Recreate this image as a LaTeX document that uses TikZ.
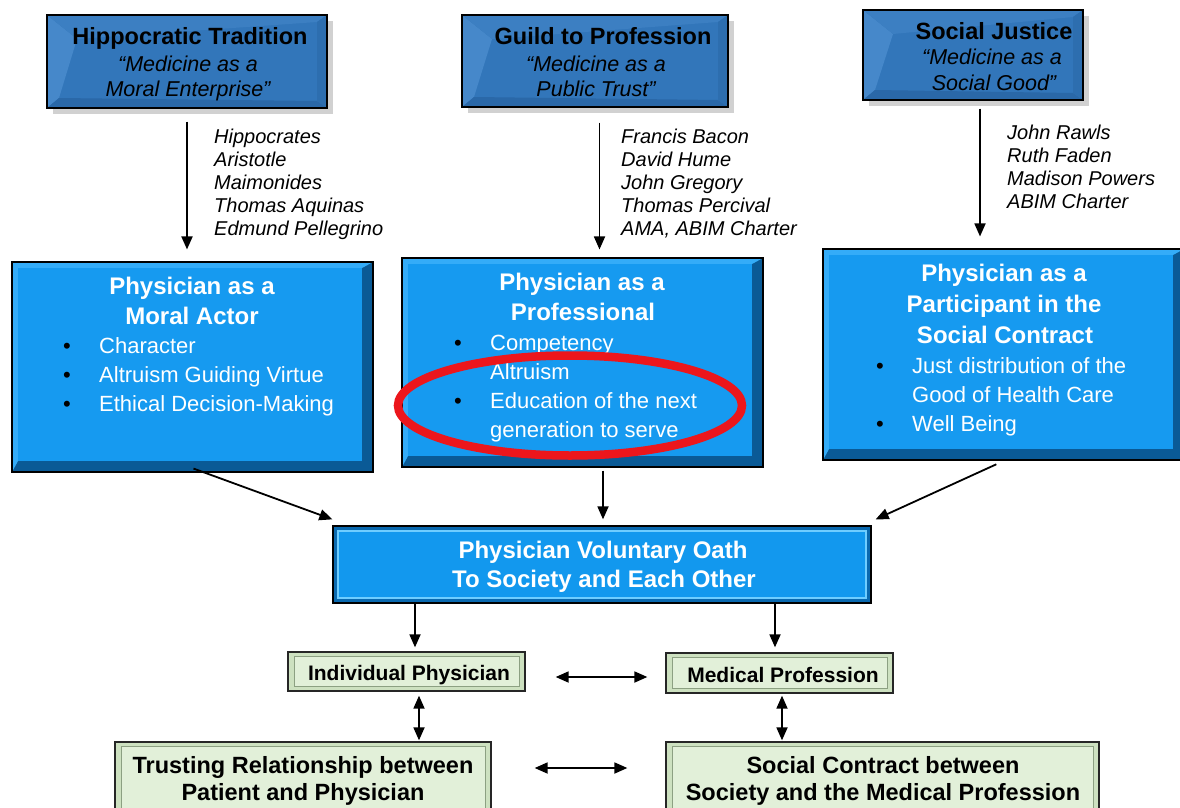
\documentclass[tikz,border=0pt]{standalone}
\usepackage{fontspec}
\setmainfont{Liberation Sans}
\usetikzlibrary{arrows.meta,calc}
\definecolor{topface}{RGB}{50,118,186}
\definecolor{toplight}{RGB}{70,136,202}
\definecolor{topdark}{RGB}{42,104,168}
\definecolor{midface}{RGB}{22,154,240}
\definecolor{midlight}{RGB}{52,172,248}
\definecolor{middark}{RGB}{10,90,150}
\definecolor{oathface}{RGB}{18,152,238}
\definecolor{oathline}{RGB}{110,205,255}
\definecolor{oathband}{RGB}{10,105,175}
\definecolor{gface}{RGB}{226,240,217}
\definecolor{gband}{RGB}{205,225,192}
\definecolor{gline}{RGB}{140,160,130}
\definecolor{ovalred}{RGB}{236,22,28}
\newcommand\topbox[5]{%
  \fill[black!18] (#2+6,#3+6) rectangle (#4+6,#5+6);
  \fill[topface] (#2,#3) rectangle (#4,#5);
  \fill[toplight] (#2,#3) -- (#2+30,#3+24) -- (#2+12,#5-10) -- (#2,#5) -- cycle;
  \fill[toplight!50!topface] (#2,#3) -- (#4,#3) -- (#4-10,#3+7) -- (#2+30,#3+24) -- cycle;
  \fill[topdark] (#2,#5) -- (#2+12,#5-10) -- (#4-10,#5-7) -- (#4,#5) -- cycle;
  \fill[topdark!60!topface] (#4,#3) -- (#4-10,#3+7) -- (#4-10,#5-7) -- (#4,#5) -- cycle;
  \node[draw=black,line width=1.3pt,inner sep=0,minimum width=#4pt-#2pt,minimum height=#5pt-#3pt] (#1) at ({(#2+#4)/2},{(#3+#5)/2}) {};}
\newcommand\midbox[5]{%
  \fill[middark] (#2,#3) rectangle (#4,#5);
  \fill[midlight] (#2,#3) -- (#4,#3) -- (#4-11,#3+6) -- (#2+6,#3+6) -- (#2+6,#5-11) -- (#2,#5) -- cycle;
  \fill[midface] (#2+6,#3+6) rectangle (#4-11,#5-11);
  \node[draw=black,line width=1.1pt,inner sep=0,minimum width=#4pt-#2pt,minimum height=#5pt-#3pt] (#1) at ({(#2+#4)/2},{(#3+#5)/2}) {};}
\newcommand\oathbox[5]{%
  \fill[oathband] (#2,#3) rectangle (#4,#5);
  \fill[oathface] (#2+4,#3+4) rectangle (#4-4,#5-4);
  \draw[oathline,line width=1.4pt] (#2+5,#3+5) rectangle (#4-5,#5-5);
  \node[draw=black,line width=1.3pt,inner sep=0,minimum width=#4pt-#2pt,minimum height=#5pt-#3pt] (#1) at ({(#2+#4)/2},{(#3+#5)/2}) {};}
\newcommand\greenbox[5]{%
  \fill[gband] (#2,#3) rectangle (#4,#5);
  \fill[gface] (#2+6,#3+4) rectangle (#4-6,#5-5);
  \draw[gline,line width=0.8pt] (#2+6,#3+4) rectangle (#4-6,#5-5);
  \node[draw=black!85,line width=1.3pt,inner sep=0,minimum width=#4pt-#2pt,minimum height=#5pt-#3pt] (#1) at ({(#2+#4)/2},{(#3+#5)/2}) {};}
\begin{document}
\begin{tikzpicture}[x=1pt,y=-1pt,
  hd/.style={font=\fontsize{23.5}{26}\selectfont\bfseries,text=black,anchor=base,inner sep=0},
  it/.style={font=\fontsize{21.5}{24}\selectfont\itshape,text=black,anchor=base,inner sep=0},
  auth/.style={font=\fontsize{20}{23}\selectfont\itshape,text=black,anchor=base west,inner sep=0},
  whd/.style={font=\fontsize{24}{26}\selectfont\bfseries,text=white,anchor=base,inner sep=0},
  wtx/.style={font=\fontsize{22}{24}\selectfont,text=white,anchor=base west,inner sep=0},
  bul/.style={font=\fontsize{22}{24}\selectfont,text=black,anchor=base,inner sep=0},
  gtx/.style={font=\fontsize{21}{24}\selectfont\bfseries,text=black,anchor=base,inner sep=0},
  gtxb/.style={font=\fontsize{23.5}{26}\selectfont\bfseries,text=black,anchor=base,inner sep=0},
  arr/.style={line width=1.8pt,-{Triangle[length=13pt,width=11pt]}},
  darr/.style={line width=1.8pt,{Triangle[length=13pt,width=11pt]}-{Triangle[length=13pt,width=11pt]}}]
\useasboundingbox (0,0) rectangle (1180,808);
\clip (0,0) rectangle (1180,808);
\fill[white] (0,0) rectangle (1180,808);

% ---------- top boxes
\topbox{hip}{47}{15}{327}{108}
\topbox{guild}{462}{15}{728}{107}
\topbox{sj}{863}{10}{1083}{100}
\node[hd] (hipA) at (190,45) {Hippocratic Tradition};
\node[it] (hipB) at (188,71) {“Medicine as a};
\node[it] (hipC) at (188,96) {Moral Enterprise”};
\node[hd] (guA) at (603,45) {Guild to Profession};
\node[it] (guB) at (596,71) {“Medicine as a};
\node[it] (guC) at (596,96) {Public Trust”};
\node[hd] (sjA) at (994,40) {Social Justice};
\node[it] (sjB) at (992,65) {“Medicine as a};
\node[it] (sjC) at (994,90) {Social Good”};

% ---------- authors
\node[auth] (a1) at (214,143) {Hippocrates};
\node[auth] (a2) at (214,166) {Aristotle};
\node[auth] (a3) at (214,189) {Maimonides};
\node[auth] (a4) at (214,212) {Thomas Aquinas};
\node[auth] (a5) at (214,235) {Edmund Pellegrino};
\node[auth] (b1) at (621,143) {Francis Bacon};
\node[auth] (b2) at (621,166) {David Hume};
\node[auth] (b3) at (621,189) {John Gregory};
\node[auth] (b4) at (621,212) {Thomas Percival};
\node[auth] (b5) at (621,235) {AMA, ABIM Charter};
\node[auth] (c1) at (1007,139) {John Rawls};
\node[auth] (c2) at (1007,162) {Ruth Faden};
\node[auth] (c3) at (1007,185) {Madison Powers};
\node[auth] (c4) at (1007,208) {ABIM Charter};

% ---------- middle boxes
\midbox{ma}{12}{262}{373}{472}
\midbox{pro}{402}{258}{763}{467}
\midbox{sc}{823}{249}{1184}{460}
\node[whd] (maA) at (192,294) {Physician as a};
\node[whd] (maB) at (192,324) {Moral Actor};
\node[bul] (maD1) at (67,353) {•};
\node[wtx] (maT1) at (99,353) {Character};
\node[bul] (maD2) at (67,382) {•};
\node[wtx] (maT2) at (99,382) {Altruism Guiding Virtue};
\node[bul] (maD3) at (67,411) {•};
\node[wtx] (maT3) at (99,411) {Ethical Decision-Making};

\node[whd] (proA) at (582,290) {Physician as a};
\node[whd] (proB) at (583,320) {Professional};
\node[bul] (proD1) at (458,350) {•};
\node[wtx] (proT1) at (490,350) {Competency};
\node[wtx] (proT2) at (490,379) {Altruism};
\node[bul] (proD3) at (458,408) {•};
\node[wtx] (proT3) at (490,408) {Education of the next};
\node[wtx] (proT4) at (490,437) {generation to serve};

\node[whd] (scA) at (1004,281) {Physician as a};
\node[whd] (scB) at (1004,312) {Participant in the};
\node[whd] (scC) at (1005,343) {Social Contract};
\node[bul] (scD1) at (880,373) {•};
\node[wtx] (scT1) at (912,373) {Just distribution of the};
\node[wtx] (scT2) at (912,402) {Good of Health Care};
\node[bul] (scD3) at (880,431) {•};
\node[wtx] (scT3) at (912,431) {Well Being};

% red oval
\draw[ovalred,line width=8.5pt] (570,405.5) ellipse [x radius=172pt,y radius=50pt];

% ---------- oath
\oathbox{oath}{333}{526}{871}{603}
\node[whd] (oA) at (603,558) {Physician Voluntary Oath};
\node[whd] (oB) at (604,587) {To Society and Each Other};

% ---------- green boxes
\greenbox{ind}{288}{652}{525}{691}
\greenbox{med}{666}{653}{893}{693}
\greenbox{trust}{115}{742}{491}{814}
\greenbox{soc}{666}{742}{1099}{814}
\node[gtx] (indT) at (409,680) {Individual Physician};
\node[gtx] (medT) at (783,682) {Medical Profession};
\node[gtxb] (trA) at (303,773) {Trusting Relationship between};
\node[gtxb] (trB) at (303,800) {Patient and Physician};
\node[gtxb] (soA) at (883,773) {Social Contract between};
\node[gtxb] (soB) at (883,800) {Society and the Medical Profession};

% ---------- connectors
\draw[arr,shorten <=13pt,shorten >=12pt] (hip.south) -- (hip.south |- ma.north);
\draw[arr,shorten <=15pt,shorten >=8pt] ([xshift=4.5pt]guild.south) -- ([xshift=4.5pt]guild.south |- pro.north);
\draw[arr,shorten <=8pt,shorten >=12pt] ([xshift=7pt]sj.south) -- ([xshift=7pt]sj.south |- sc.north);

\draw[arr] ([xshift=1pt,yshift=4pt]ma.south) -- ([yshift=6pt]oath.north west);
\draw[arr,shorten <=3pt,shorten >=6pt] ([xshift=1pt]oath.north |- pro.south) -- ([xshift=1pt]oath.north);
\draw[arr,shorten <=9pt] ([xshift=1pt]sc.south) -- ([xshift=4pt,yshift=6pt]oath.north east);

\draw[arr,shorten >=4pt] ([xshift=8.5pt]ind.north |- oath.south) -- ([xshift=8.5pt]ind.north);
\draw[arr,shorten >=5pt] ([xshift=-4.5pt]med.north |- oath.south) -- ([xshift=-4.5pt]med.north);

\draw[darr,shorten <=4pt,shorten >=1pt] ([xshift=12.5pt]ind.south) -- ([xshift=12.5pt]ind.south |- trust.north);
\draw[darr,shorten <=2pt,shorten >=1pt] ([xshift=2.5pt]med.south) -- ([xshift=2.5pt]med.south |- soc.north);

\draw[darr,shorten <=30pt,shorten >=18pt] ([yshift=-5.5pt]ind.east) -- ([yshift=-5.5pt]ind.east -| med.west);
\draw[darr,shorten <=43pt,shorten >=38pt] ([yshift=10pt]trust.east) -- ([yshift=10pt]trust.east -| soc.west);
\end{tikzpicture}
\end{document}
